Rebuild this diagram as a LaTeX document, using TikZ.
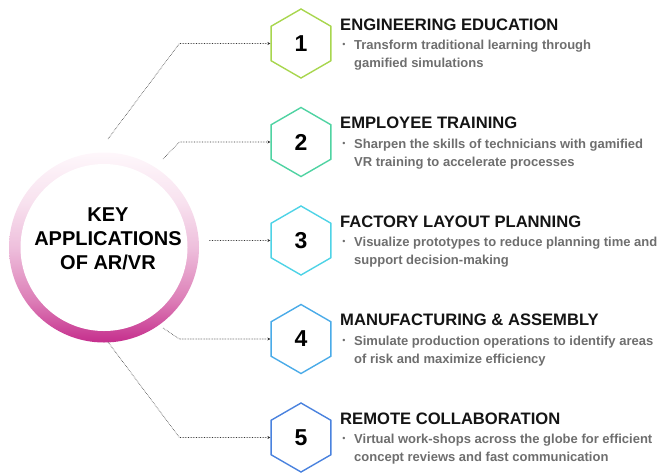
\documentclass[tikz,border=0pt]{standalone}
\usepackage{fontspec}
\setmainfont{Liberation Sans}
\usetikzlibrary{shapes.geometric,arrows.meta,positioning,calc}

\definecolor{ringtop}{HTML}{FEF7FB}
\definecolor{ringlite}{HTML}{F8E2EF}
\definecolor{ringmid}{HTML}{EEBFDC}
\definecolor{ringdeep}{HTML}{DC7DB6}
\definecolor{ringbot}{HTML}{C52E8C}
\definecolor{hexone}{HTML}{A8D64E}
\definecolor{hextwo}{HTML}{4FD3A2}
\definecolor{hexthree}{HTML}{4ED3E6}
\definecolor{hexfour}{HTML}{4AABE8}
\definecolor{hexfive}{HTML}{4A82DE}
\definecolor{titlecol}{HTML}{141414}
\definecolor{desccol}{HTML}{6E6E6E}
\definecolor{linkcol}{HTML}{333333}

\pgfdeclareverticalshading{ringshade}{100bp}{color(0bp)=(ringbot); color(25bp)=(ringbot);
  color(36bp)=(ringdeep); color(50bp)=(ringmid); color(62bp)=(ringlite);
  color(75bp)=(ringtop); color(100bp)=(ringtop)}

\tikzset{
  hexa/.style={regular polygon, regular polygon sides=6, shape border rotate=30,
    minimum size=69pt, inner sep=0pt, line width=1.4pt, draw=#1,
    font=\fontsize{23}{23}\selectfont\bfseries, text=black},
  heading/.style={anchor=base west, inner sep=0pt,
    font=\fontsize{16.6}{20}\selectfont\bfseries, text=titlecol},
  desc/.style={anchor=north west, inner sep=0pt, align=left,
    font=\fontsize{13}{18}\selectfont\bfseries, text=desccol},
  bulletmark/.style={inner sep=0pt, font=\fontsize{9}{9}\selectfont, text=desccol},
  hubtext/.style={align=center, inner sep=0pt,
    font=\fontsize{20}{24}\selectfont\bfseries, text=black},
  link/.style={densely dotted, line width=0.6pt, draw=linkcol,
    -{Stealth[length=3pt,width=3pt]}},
}

\begin{document}
\begin{tikzpicture}[x=1pt,y=-1pt,node distance=98.5pt,on grid]
   \useasboundingbox (0,0) rectangle (658,472);

   % central ring
   \coordinate (hub) at (104,247.5);
   \shade[shading=ringshade] (hub) circle[radius=95];
   \fill[white] (hub) circle[radius=83.5];
   \node[hubtext] (key) at (108,239) {KEY\\APPLICATIONS\\OF AR/VR};

   % hexagons
   \node[hexa=hexone] (h1) at (301,43.5) {1};
   \node[hexa=hextwo] (h2) [below=of h1] {2};
   \node[hexa=hexthree] (h3) [below=of h2] {3};
   \node[hexa=hexfour] (h4) [below=of h3] {4};
   \node[hexa=hexfive] (h5) [below=of h4] {5};

   % headings and descriptions
   \node[heading] (t1) at ($(h1)+(39,-13.5)$) {ENGINEERING EDUCATION};
   \node[bulletmark] (d1b) at ($(h1)+(43,2)$) {•};
   \node[desc] (d1) at ($(h1)+(53,-3.5)$) {Transform traditional learning through\\gamified simulations};

   \node[heading] (t2) at ($(h2)+(39,-13.5)$) {EMPLOYEE TRAINING};
   \node[bulletmark] (d2b) at ($(h2)+(43,2)$) {•};
   \node[desc] (d2) at ($(h2)+(53,-3.5)$) {Sharpen the skills of technicians with gamified\\VR training to accelerate processes};

   \node[heading] (t3) at ($(h3)+(39,-13.5)$) {FACTORY LAYOUT PLANNING};
   \node[bulletmark] (d3b) at ($(h3)+(43,2)$) {•};
   \node[desc] (d3) at ($(h3)+(53,-3.5)$) {Visualize prototypes to reduce planning time and\\support decision-making};

   \node[heading] (t4) at ($(h4)+(39,-13.5)$) {MANUFACTURING \& ASSEMBLY};
   \node[bulletmark] (d4b) at ($(h4)+(43,2)$) {•};
   \node[desc] (d4) at ($(h4)+(53,-3.5)$) {Simulate production operations to identify areas\\of risk and maximize efficiency};

   \node[heading] (t5) at ($(h5)+(39,-13.5)$) {REMOTE COLLABORATION};
   \node[bulletmark] (d5b) at ($(h5)+(43,2)$) {•};
   \node[desc] (d5) at ($(h5)+(53,-3.5)$) {Virtual work-shops across the globe for efficient\\concept reviews and fast communication};

   % connectors
   \coordinate (s1) at (108,139);
   \coordinate (s2) at (163,159);
   \coordinate (s3) at (209,240.5);
   \coordinate (s4) at (163,328);
   \coordinate (s5) at (108,342);
   \coordinate (b1) at ($(h1.west)+(-91,0)$);
   \coordinate (b2) at ($(h2.west)+(-91,0)$);
   \coordinate (b4) at ($(h4.west)+(-91,0)$);
   \coordinate (b5) at ($(h5.west)+(-91,0)$);

   \draw[link] (s1) -- (b1) -- (h1);
   \draw[link] (s2) -- (b2) -- (h2);
   \draw[link] (s3) -- (h3);
   \draw[link] (s4) -- (b4) -- (h4);
   \draw[link] (s5) -- (b5) -- (h5);
\end{tikzpicture}
\end{document}
